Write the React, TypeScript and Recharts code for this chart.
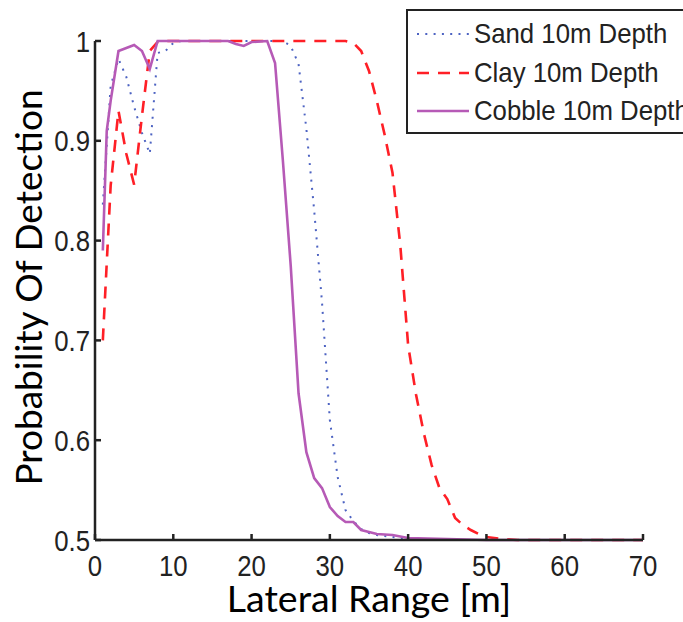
import React from 'react'
import { LineChart, Line, XAxis, YAxis, Label } from 'recharts'

// lateral range (m) and probability of detection
const sandX = [1, 2, 3, 4, 5, 6, 7, 8, 9, 10, 11, 24, 25, 26, 27, 28, 29, 30, 31, 32, 33, 34, 35, 36, 37, 38, 39, 40, 42, 45, 70]
const sandY = [0.836, 0.955, 0.982, 0.964, 0.934, 0.908, 0.887, 0.988, 0.99, 0.998, 1, 1, 0.995, 0.977, 0.912, 0.83, 0.738, 0.62, 0.563, 0.53, 0.519, 0.511, 0.507, 0.505, 0.504, 0.503, 0.502, 0.502, 0.501, 0.5, 0.5]

const clayX = [1, 2, 3, 4, 5, 6, 7, 8, 9, 32, 33, 34, 35, 36, 37, 38, 39, 40, 41, 42, 43, 44, 45, 46, 47, 48, 49, 50, 51, 52, 54, 70]
const clayY = [0.7, 0.855, 0.93, 0.887, 0.856, 0.925, 0.99, 0.999, 1, 1, 0.998, 0.99, 0.97, 0.94, 0.906, 0.868, 0.795, 0.695, 0.646, 0.607, 0.575, 0.552, 0.541, 0.522, 0.515, 0.51, 0.506, 0.503, 0.502, 0.501, 0.5, 0.5]

const cobbleX = [1, 1.5, 2, 3, 4, 5, 6, 7, 8, 17, 18, 19, 20, 22, 23, 24, 25, 26, 27, 28, 29, 30, 31, 32, 33, 34, 35, 36, 38, 40, 45, 50, 70]
const cobbleY = [0.79, 0.91, 0.94, 0.99, 0.993, 0.996, 0.99, 0.972, 1, 1, 0.997, 0.995, 0.999, 1, 0.978, 0.88, 0.775, 0.647, 0.588, 0.562, 0.552, 0.533, 0.524, 0.518, 0.518, 0.51, 0.508, 0.506, 0.505, 0.502, 0.501, 0.5, 0.5]

const xTicks = [0, 10, 20, 30, 40, 50, 60, 70]
const yTicks = [0.5, 0.6, 0.7, 0.8, 0.9, 1]

const toPoints = (xs: number[], ys: number[]) => xs.map((x, i) => ({ x, y: ys[i] }))

const series = [
  { name: 'Sand 10m Depth', data: toPoints(sandX, sandY), color: '#4d63c2', width: 2, dash: '2 6.3' },
  { name: 'Clay 10m Depth', data: toPoints(clayX, clayY), color: '#ff1f26', width: 2.6, dash: '12 9' },
  { name: 'Cobble 10m Depth', data: toPoints(cobbleX, cobbleY), color: '#b65ab6', width: 2.6, dash: undefined },
]

const AXIS = '#222'
const TICK_FONT = "'Liberation Sans', Arial, sans-serif"
const TITLE_FONT = "Lato, 'Open Sans', sans-serif"

const BottomTick = ({ x, y, payload }: any) => (
  <g>
    <line x1={x} x2={x} y1={y} y2={y - 6} stroke={AXIS} strokeWidth={2.5} />
    <text transform={`translate(${x},${y + 35.5}) scale(0.86,1)`} textAnchor="middle" fontSize={30} fontFamily={TICK_FONT} fill={AXIS}>
      {payload.value}
    </text>
  </g>
)

const TopTick = ({ x, y }: any) => <line x1={x} x2={x} y1={y} y2={y + 6} stroke={AXIS} strokeWidth={2.5} />

const LeftTick = ({ x, y, payload }: any) => (
  <g>
    <line x1={x} x2={x + 6} y1={y} y2={y} stroke={AXIS} strokeWidth={2.5} />
    <text transform={`translate(${x - 5},${y + 10.5}) scale(0.86,1)`} textAnchor="end" fontSize={30} fontFamily={TICK_FONT} fill={AXIS}>
      {payload.value}
    </text>
  </g>
)

const RightTick = ({ x, y }: any) => <line x1={x} x2={x - 6} y1={y} y2={y} stroke={AXIS} strokeWidth={2.5} />

const LegendBox = () => (
  <div
    style={{
      position: 'absolute',
      left: 406,
      top: 9,
      width: 300,
      height: 125,
      border: `2.5px solid ${AXIS}`,
      background: '#fff',
      fontFamily: TICK_FONT,
      color: AXIS,
      paddingTop: 4,
      boxSizing: 'border-box',
    }}
  >
    {series.map((s) => (
      <div key={s.name} style={{ display: 'flex', alignItems: 'center', height: 38.5 }}>
        <svg width={66} height={20} style={{ flex: 'none' }}>
          <line x1={9} x2={61} y1={10} y2={10} stroke={s.color} strokeWidth={s.width} strokeDasharray={s.dash} />
        </svg>
        <span style={{ fontSize: 28, whiteSpace: 'nowrap', display: 'inline-block', transform: 'scaleX(0.92)', transformOrigin: 'left center' }}>
          {s.name}
        </span>
      </div>
    ))}
  </div>
)

export default function App() {
  return (
    <div style={{ width: 683, height: 622, overflow: 'hidden', position: 'relative', background: '#fff' }}>
      <style>{'body{margin:0}'}</style>
      <LineChart width={683} height={622} margin={{ top: 41, right: 40, bottom: 0, left: 0 }}>
        <XAxis
          xAxisId="b"
          dataKey="x"
          type="number"
          domain={[0, 70]}
          ticks={xTicks}
          height={82}
          axisLine={{ stroke: AXIS, strokeWidth: 2.5 }}
          tickLine={false}
          tickSize={0}
          tickMargin={0}
          tick={<BottomTick />}
          interval={0}
        >
          <Label
            content={({ viewBox }: any) => (
              <text x={viewBox.x + viewBox.width / 2} y={viewBox.y + 72} textAnchor="middle" fontSize={37.5} fontFamily={TITLE_FONT} fill="#000">
                Lateral Range [m]
              </text>
            )}
          />
        </XAxis>
        <XAxis
          xAxisId="t"
          orientation="top"
          dataKey="x"
          type="number"
          domain={[0, 70]}
          ticks={xTicks}
          height={0}
          axisLine={{ stroke: AXIS, strokeWidth: 2.5 }}
          tickLine={false}
          tickSize={0}
          tickMargin={0}
          tick={<TopTick />}
          interval={0}
        />
        <YAxis
          yAxisId="l"
          type="number"
          domain={[0.5, 1]}
          ticks={yTicks}
          width={95}
          axisLine={{ stroke: AXIS, strokeWidth: 2.5 }}
          tickLine={false}
          tickSize={0}
          tickMargin={0}
          tick={<LeftTick />}
          interval={0}
        >
          <Label
            content={({ viewBox }: any) => {
              const cx = 42
              const cy = viewBox.y + viewBox.height / 2 - 3
              return (
                <text transform={`translate(${cx},${cy}) rotate(-90)`} textAnchor="middle" fontSize={37} fontFamily={TITLE_FONT} fill="#000">
                  Probability Of Detection
                </text>
              )
            }}
          />
        </YAxis>
        <YAxis
          yAxisId="r"
          orientation="right"
          type="number"
          domain={[0.5, 1]}
          ticks={yTicks}
          width={0}
          axisLine={{ stroke: AXIS, strokeWidth: 2.5 }}
          tickLine={false}
          tickSize={0}
          tickMargin={0}
          tick={<RightTick />}
          interval={0}
        />
        {series.map((s) => (
          <Line
            key={s.name}
            xAxisId="b"
            yAxisId="l"
            data={s.data}
            dataKey="y"
            name={s.name}
            type="linear"
            stroke={s.color}
            strokeWidth={s.width}
            strokeDasharray={s.dash}
            dot={false}
            activeDot={false}
            isAnimationActive={false}
          />
        ))}
      </LineChart>
      <LegendBox />
    </div>
  )
}
